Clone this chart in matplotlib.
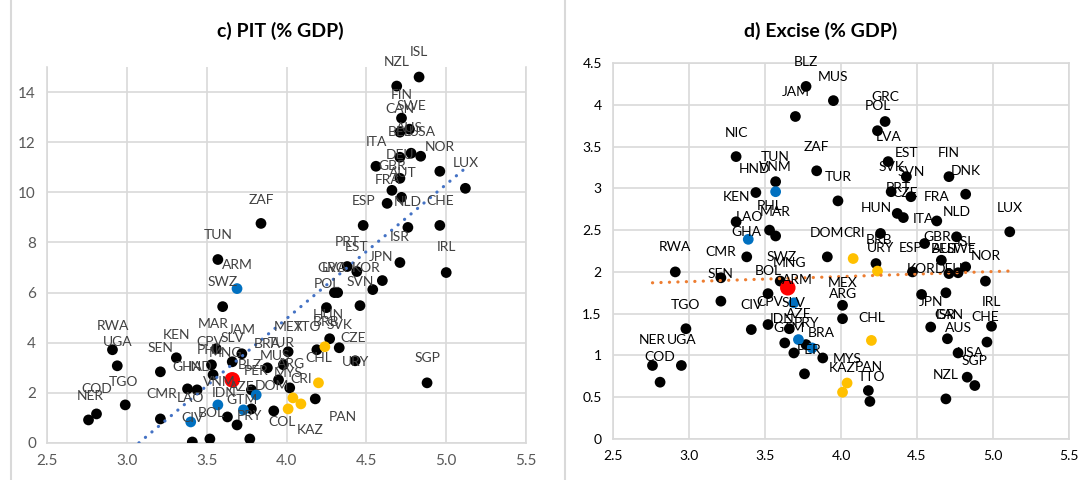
import numpy as np
import matplotlib
matplotlib.use("Agg")
import matplotlib.pyplot as plt
from matplotlib.lines import Line2D

plt.rcParams["font.family"] = ["Lato", "DejaVu Sans"]


# ---- panel c) PIT (% GDP): points ----
pit_black_x = [2.76, 2.81, 2.99, 2.91, 2.94, 3.21, 3.31, 3.21, 3.38, 3.44, 3.41, 3.52,
               3.53, 3.56, 3.54, 3.66, 3.72, 3.60, 3.57, 3.84, 3.63, 3.69, 3.77, 3.78,
               3.78, 3.88, 3.98, 3.95, 4.02, 3.92, 4.01, 4.18, 4.19, 4.27, 4.33, 4.43,
               4.88, 4.25, 4.46, 4.30, 4.32, 4.54, 4.60, 4.38, 4.44, 4.71, 5.00, 4.48,
               4.76, 4.96, 4.63, 4.72, 4.66, 5.12, 4.71, 4.96, 4.56, 4.71, 4.78, 4.84,
               4.71, 4.77, 4.72, 4.69, 4.83]
pit_black_y = [0.92, 1.16, 1.52, 3.72, 3.08, 2.84, 3.40, 0.96, 2.16, 2.12, 0.04, 0.16,
               3.12, 3.76, 2.72, 3.24, 3.56, 5.44, 7.32, 8.76, 1.04, 0.72, 0.16, 1.36,
               2.12, 3.00, 3.12, 2.52, 2.20, 1.28, 3.64, 1.76, 3.72, 4.16, 3.80, 3.28,
               2.40, 5.40, 5.48, 6.00, 6.00, 6.12, 6.48, 7.04, 6.84, 7.20, 6.80, 8.68,
               8.60, 8.68, 9.56, 9.80, 10.08, 10.16, 10.56, 10.84, 11.04, 11.40, 11.56, 11.44,
               12.40, 12.52, 12.96, 14.24, 14.60]
pit_blue_x = [3.69, 3.81, 3.57, 3.73, 3.40]
pit_blue_y = [6.16, 1.92, 1.52, 1.32, 0.84]
pit_yellow_x = [4.24, 4.20, 4.04, 4.09, 4.01]
pit_yellow_y = [3.84, 2.40, 1.80, 1.56, 1.36]
pit_red_x = [3.66]
pit_red_y = [2.52]

pit_names = ["NER", "COD", "TGO", "UGA", "RWA", "SEN", "KEN", "CMR", "LAO", "CIV",
             "GHA", "IND", "MAR", "JAM", "CPV", "SLV", "PHL", "MNG", "BLZ", "VNM",
             "IDN", "GTM", "BOL", "PRY", "AZE", "DOM", "PER", "BRA", "TUR", "MUS",
             "ARG", "MYS", "CRI", "MEX", "TTO", "COL", "KAZ", "PAN", "CHL", "CZE",
             "URY", "SGP", "HUN", "BRB", "SVK", "POL", "SVN", "GRC", "LVA", "KOR",
             "PRT", "EST", "JPN", "ISR", "IRL", "ESP", "NLD", "CHE", "FRA", "AUT",
             "GBR", "DEU", "LUX", "ITA", "NOR", "BEL", "AUS", "USA", "CAN", "SWE",
             "FIN", "NZL", "ISL", "ZAF", "TUN", "ARM", "SWZ"]
pit_label_x = [2.77, 2.81, 2.98, 2.94, 2.91, 3.21, 3.31, 3.22, 3.40, 3.41,
               3.38, 3.46, 3.54, 3.72, 3.52, 3.66, 3.52, 3.62, 3.77, 3.58,
               3.61, 3.72, 3.53, 3.77, 3.72, 3.91, 3.81, 3.88, 3.97, 3.93,
               4.03, 4.01, 4.09, 4.01, 4.13, 3.97, 4.15, 4.35, 4.20, 4.42,
               4.43, 4.88, 4.26, 4.25, 4.33, 4.25, 4.46, 4.28, 4.30, 4.50,
               4.38, 4.44, 4.59, 4.71, 5.00, 4.48, 4.76, 4.96, 4.63, 4.73,
               4.66, 4.71, 5.12, 4.56, 4.96, 4.71, 4.77, 4.85, 4.71, 4.78,
               4.72, 4.69, 4.83, 3.84, 3.57, 3.69, 3.60]
pit_label_y = [1.88, 2.16, 2.44, 4.04, 4.68, 3.80, 4.32, 1.96, 1.80, 1.00,
               3.04, 3.04, 4.76, 4.52, 4.04, 4.20, 3.72, 3.60, 3.12, 2.44,
               2.00, 1.72, 1.20, 1.08, 2.24, 2.28, 2.88, 3.96, 4.00, 3.48,
               3.16, 2.80, 2.56, 4.64, 4.64, 0.84, 0.52, 1.04, 3.40, 4.20,
               3.24, 3.40, 5.12, 4.84, 4.72, 6.36, 6.44, 7.00, 7.00, 7.00,
               8.00, 7.80, 7.44, 8.20, 7.80, 9.64, 9.60, 9.64, 10.48, 10.76,
               11.04, 11.48, 11.16, 12.00, 11.80, 12.40, 12.56, 12.40, 13.32, 13.44,
               13.88, 15.20, 15.60, 9.68, 8.30, 7.10, 6.44]

# linear trendline (slope, intercept)
pit_trend = (5.36, -16.48)


# ---- panel d) Excise (% GDP) ----
exc_black_x = [3.77, 3.70, 3.95, 3.31, 3.57, 3.44, 3.84, 3.98, 3.31, 3.53, 3.57, 2.91,
               3.38, 3.21, 3.21, 2.98, 2.76, 2.95, 2.81, 3.41, 3.52, 3.52, 3.60, 3.66,
               3.63, 3.69, 3.77, 3.88, 3.76, 3.91, 4.26, 4.23, 4.29, 4.24, 4.31, 4.43,
               4.71, 4.82, 4.33, 4.46, 4.37, 4.41, 4.63, 5.11, 4.55, 4.76, 4.66, 4.47,
               4.71, 4.77, 4.82, 4.95, 4.53, 4.69, 4.59, 4.99, 4.70, 4.96, 4.77, 4.83,
               4.88, 4.69, 4.01, 4.01, 4.18, 4.19]
exc_black_y = [4.22, 3.86, 4.05, 3.38, 3.08, 2.95, 3.21, 2.85, 2.60, 2.50, 2.43, 2.00,
               2.18, 1.93, 1.65, 1.32, 0.88, 0.88, 0.68, 1.31, 1.37, 1.74, 1.89, 1.32,
               1.15, 1.03, 1.13, 0.97, 0.78, 2.18, 2.46, 2.10, 3.80, 3.69, 3.32, 3.14,
               3.14, 2.93, 2.96, 2.90, 2.70, 2.65, 2.61, 2.48, 2.34, 2.42, 2.14, 2.00,
               1.98, 1.99, 2.06, 1.89, 1.73, 1.75, 1.34, 1.35, 1.20, 1.16, 1.03, 0.74,
               0.64, 0.48, 1.60, 1.44, 0.58, 0.45]
exc_blue_x = [3.57, 3.39, 3.69, 3.72, 3.81]
exc_blue_y = [2.96, 2.39, 1.63, 1.19, 1.09]
exc_yellow_x = [4.08, 4.24, 4.20, 4.04, 4.01]
exc_yellow_y = [2.16, 2.01, 1.18, 0.67, 0.56]
exc_red_x = [3.65]
exc_red_y = [1.81]

exc_names = ["BLZ", "MUS", "JAM", "GRC", "POL", "LVA", "NIC", "ZAF", "EST", "FIN",
             "TUN", "VNM", "HND", "SVK", "SVN", "DNK", "TUR", "PRT", "CZE", "FRA",
             "KEN", "PHL", "MAR", "HUN", "NLD", "LAO", "ITA", "LUX", "GHA", "RWA",
             "CMR", "DOM", "CRI", "BRB", "URY", "ESP", "GBR", "ISL", "BEL", "AUT",
             "SWE", "NOR", "SWZ", "MNG", "BOL", "SEN", "ARM", "KOR", "DEU", "MEX",
             "ARG", "TGO", "CIV", "CPV", "SLV", "IDN", "AZE", "GTM", "PRY", "BRA",
             "PER", "CHL", "NER", "UGA", "COD", "JPN", "IRL", "ISR", "CAN", "CHE",
             "AUS", "USA", "SGP", "NZL", "MYS", "KAZ", "PAN", "TTO"]
exc_label_x = [3.77, 3.95, 3.70, 4.29, 4.24, 4.31, 3.31, 3.84, 4.43, 4.71,
               3.57, 3.57, 3.43, 4.33, 4.46, 4.82, 3.98, 4.38, 4.42, 4.63,
               3.31, 3.53, 3.57, 4.23, 4.76, 3.40, 4.54, 5.11, 3.38, 2.91,
               3.21, 3.91, 4.09, 4.25, 4.26, 4.46, 4.63, 4.82, 4.67, 4.69,
               4.79, 4.95, 3.61, 3.66, 3.52, 3.21, 3.71, 4.53, 4.71, 4.01,
               4.01, 2.98, 3.41, 3.53, 3.69, 3.61, 3.72, 3.66, 3.77, 3.87,
               3.79, 4.20, 2.76, 2.95, 2.81, 4.59, 4.99, 4.69, 4.71, 4.95,
               4.77, 4.85, 4.88, 4.69, 4.04, 4.01, 4.18, 4.20]
exc_label_y = [4.51, 4.33, 4.15, 4.09, 3.98, 3.62, 3.66, 3.50, 3.42, 3.42,
               3.38, 3.25, 3.23, 3.25, 3.19, 3.21, 3.14, 3.01, 2.95, 2.90,
               2.90, 2.79, 2.72, 2.76, 2.72, 2.66, 2.63, 2.77, 2.48, 2.30,
               2.24, 2.47, 2.46, 2.38, 2.29, 2.29, 2.42, 2.36, 2.27, 2.27,
               2.27, 2.19, 2.18, 2.11, 2.01, 1.97, 1.90, 2.03, 2.03, 1.87,
               1.73, 1.60, 1.60, 1.64, 1.63, 1.44, 1.50, 1.33, 1.39, 1.27,
               1.07, 1.45, 1.18, 1.18, 0.98, 1.64, 1.64, 1.48, 1.48, 1.46,
               1.33, 1.03, 0.93, 0.77, 0.96, 0.85, 0.86, 0.74]

exc_trend = (0.06, 1.704)


BLACK = "#000000"
BLUE = "#0070C0"
YELLOW = "#FFC000"
RED = "#FF0000"
GRID = "#D9D9D9"


def draw_panel(ax, groups, names, lab_x, lab_y, trend, trend_color, lab_color, tick_color):
    # groups: list of (x, y, colour, size)
    all_x = []
    for gx, gy, col, size in groups:
        ax.scatter(gx, gy, s=size, color=col, edgecolors="none", zorder=3)
        all_x += list(gx)

    # trendline over the data range, clipped by the axes
    tx = np.array([min(all_x), max(all_x)])
    ty = trend[0] * tx + trend[1]
    ax.add_line(Line2D(tx, ty, color=trend_color, linewidth=2.3,
                       linestyle=(0, (0.05, 2.6)), dash_capstyle="round", zorder=4))

    for name, lx, ly in zip(names, lab_x, lab_y):
        ax.text(lx, ly, name, ha="center", va="center", fontsize=10,
                color=lab_color, zorder=5, clip_on=False)

    ax.grid(True, color=GRID, linewidth=1.2)
    ax.set_axisbelow(True)
    for sp in ax.spines.values():
        sp.set_color(GRID)
        sp.set_linewidth(1.2)
    ax.tick_params(length=0, colors=tick_color, labelsize=11, pad=8)


fig = plt.figure(figsize=(10.78, 4.8), dpi=100)

# panel c
ax1 = fig.add_axes([0.0436, 0.0771, 0.4444, 0.7833])
draw_panel(ax1,
           [(pit_black_x, pit_black_y, BLACK, 60),
            (pit_blue_x, pit_blue_y, BLUE, 60),
            (pit_yellow_x, pit_yellow_y, YELLOW, 60),
            (pit_red_x, pit_red_y, RED, 125)],
           pit_names, pit_label_x, pit_label_y, pit_trend, "#4472C4", "#404040", "#595959")
ax1.set_xlim(2.5, 5.5)
ax1.set_ylim(0, 15)
ax1.set_xticks(np.arange(2.5, 5.51, 0.5))
ax1.set_xticklabels(["2.5", "3.0", "3.5", "4.0", "4.5", "5.0", "5.5"])
ax1.set_yticks(np.arange(0, 15, 2))
ax1.spines["top"].set_visible(False)

# panel d
ax2 = fig.add_axes([0.5686, 0.0854, 0.4231, 0.7833])
draw_panel(ax2,
           [(exc_black_x, exc_black_y, BLACK, 60),
            (exc_blue_x, exc_blue_y, BLUE, 60),
            (exc_yellow_x, exc_yellow_y, YELLOW, 60),
            (exc_red_x, exc_red_y, RED, 125)],
           exc_names, exc_label_x, exc_label_y, exc_trend, "#ED7D31", "#000000", "#000000")
ax2.set_xlim(2.5, 5.5)
ax2.set_ylim(0, 4.5)
ax2.set_xticks(np.arange(2.5, 5.51, 0.5))
ax2.set_xticklabels(["2.5", "3.0", "3.5", "4.0", "4.5", "5.0", "5.5"])
ax2.set_yticks(np.arange(0, 4.51, 0.5))
ax2.set_yticklabels(["0", "0.5", "1", "1.5", "2", "2.5", "3", "3.5", "4", "4.5"])
ax2.tick_params(labelsize=10)

fig.text(0.26, 0.935, "c) PIT (% GDP)", ha="center", va="center",
         fontsize=14, fontweight="bold")
fig.text(0.761, 0.935, "d) Excise (% GDP)", ha="center", va="center",
         fontsize=14, fontweight="bold")

# chart frames
fig.add_artist(Line2D([11 / 1078, 11 / 1078], [0, 1], color=GRID, linewidth=1.5,
                      transform=fig.transFigure))
fig.add_artist(Line2D([565 / 1078, 565 / 1078], [0, 1], color=GRID, linewidth=1.5,
                      transform=fig.transFigure))

fig.savefig("out.png", dpi=100)
